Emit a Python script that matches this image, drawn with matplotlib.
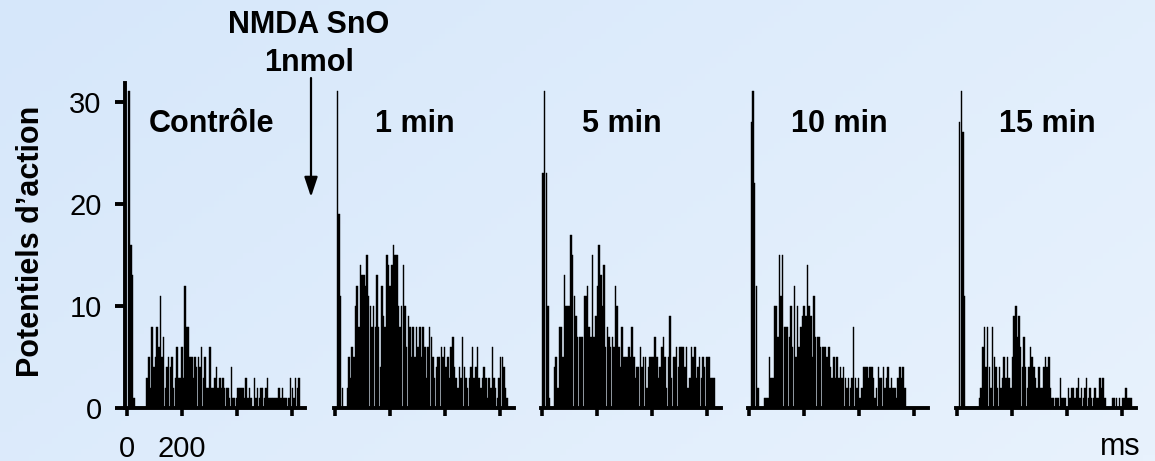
import numpy as np
import matplotlib
matplotlib.use("Agg")
import matplotlib.pyplot as plt
from matplotlib.colors import LinearSegmentedColormap
from matplotlib.patches import FancyArrowPatch

plt.rcParams['font.family'] = ['Liberation Sans', 'DejaVu Sans']

# PSTH counts, 6 ms bins starting at 0 ms
BIN_MS = 6

controle = [0, 31, 16, 13, 1, 0, 0, 0, 0, 0, 0, 0,
            3, 5, 2, 8, 4, 5, 8, 6, 11, 5, 7, 2, 4, 5, 4, 5, 2, 3, 6, 3,
            3, 6, 3, 12, 8, 8, 5, 5, 3, 5, 4, 5, 4, 6, 3, 5, 2, 2, 6, 2,
            2, 3, 4, 2, 3, 2, 3, 2, 2, 2, 1, 4, 1, 1, 1, 2, 2, 2, 2, 1,
            3, 1, 2, 1, 0, 3, 1, 2, 1, 2, 2, 1, 2, 3, 1, 1, 1, 1, 1, 1,
            2, 1, 2, 1, 1, 0, 1, 3, 2, 1, 3, 2, 3]

min_1 = [0, 31, 19, 11, 2, 0, 0, 2, 5, 3, 6, 5, 10, 12, 8, 14, 13, 13, 12, 15,
         11, 10, 8, 10, 8, 13, 8, 4, 12, 9, 8, 15, 14, 12, 14, 16, 15, 15, 10, 8,
         10, 14, 10, 6, 9, 8, 5, 8, 5, 8, 6, 8, 5, 8, 6, 3, 6, 8, 7, 5,
         3, 4, 5, 5, 6, 5, 6, 4, 5, 3, 6, 7, 4, 3, 2, 4, 3, 7, 4, 3,
         2, 3, 4, 6, 3, 4, 6, 3, 2, 3, 4, 3, 1, 3, 2, 6, 3, 2, 1, 3,
         5, 5, 4, 2, 1]

min_5 = [23, 31, 23, 10, 1, 0, 0, 4, 5, 2, 8, 8, 5, 13, 10, 10, 10, 17, 15, 11,
         9, 7, 7, 7, 7, 11, 11, 12, 8, 7, 15, 7, 9, 12, 16, 13, 10, 14, 6, 8,
         7, 6, 7, 6, 12, 10, 6, 4, 8, 5, 5, 5, 6, 5, 8, 5, 3, 4, 4, 6,
         4, 5, 5, 2, 4, 5, 5, 5, 7, 5, 3, 4, 6, 7, 5, 2, 5, 9, 3, 5,
         5, 6, 4, 6, 6, 6, 4, 6, 2, 3, 6, 5, 6, 3, 4, 5, 3, 5, 4, 5,
         5, 5, 3, 3, 3]

min_10 = [0, 28, 31, 22, 12, 2, 0, 0, 0, 1, 1, 1, 5, 3, 3, 10, 10, 7, 15, 11,
          15, 8, 8, 8, 7, 10, 6, 12, 5, 10, 6, 8, 9, 10, 9, 14, 10, 9, 5, 11,
          7, 7, 7, 6, 6, 6, 6, 5, 6, 4, 3, 5, 3, 5, 3, 4, 3, 4, 3, 2,
          3, 2, 3, 8, 3, 2, 3, 1, 2, 4, 4, 4, 3, 4, 4, 3, 1, 2, 4, 3,
          3, 4, 2, 3, 4, 2, 3, 2, 2, 1, 3, 4, 3, 4, 2]

min_15 = [0, 28, 31, 27, 11, 0, 0, 0, 0, 0, 0, 0, 0, 1, 2, 6, 8, 4, 8, 4,
          2, 8, 5, 4, 2, 4, 2, 3, 5, 3, 5, 3, 2, 5, 9, 10, 7, 9, 6, 4,
          7, 4, 2, 4, 6, 5, 4, 3, 2, 4, 2, 2, 4, 5, 4, 5, 2, 1, 1, 1,
          1, 1, 3, 1, 1, 1, 0, 2, 1, 2, 2, 1, 2, 3, 1, 2, 1, 2, 3, 1,
          2, 1, 1, 2, 1, 1, 3, 2, 3, 1, 0, 0, 0, 0, 1, 1, 1, 0, 1, 0,
          1, 1, 2, 1, 1, 1]

panels = [controle, min_1, min_5, min_10, min_15]
titles = ["Contrôle", "1 min", "5 min", "10 min", "15 min"]
x_ticks = [0, 200, 400, 600]
x_tick_labels = ["0", "200", "", ""]
y_ticks = [0, 10, 20, 30]

W, H = 1155, 461
fig = plt.figure(figsize=(W / 100, H / 100), dpi=100)

# light blue gradient background
bg = fig.add_axes([0, 0, 1, 1], zorder=-10)
cmap = LinearSegmentedColormap.from_list("bg", ["#d6e7fa", "#e8f2fd"])
gx, gy = np.meshgrid(np.linspace(0, 1, 200), np.linspace(0, 1, 80))
bg.imshow(0.65 * gx + 0.35 * gy, cmap=cmap, aspect="auto", extent=[0, 1, 0, 1])
bg.axis("off")

# pixel layout
zero_px = [126.7, 335, 542.3, 749, 957.3]
title_ms = [309, 291, 290, 330, 328]
px_per_ms = 0.2748
x_lo, x_hi = -5, 650
y_top = 31.8
base_px = 408.3
px_per_unit = 10.22

for i, counts in enumerate(panels):
    left = zero_px[i] + x_lo * px_per_ms
    width = (x_hi - x_lo) * px_per_ms
    height = y_top * px_per_unit
    ax = fig.add_axes([left / W, (H - base_px) / H, width / W, height / H])
    ax.set_facecolor("none")
    edges = np.arange(len(counts)) * BIN_MS
    ax.bar(edges, counts, width=BIN_MS * 0.92, align="edge", color="black",
           edgecolor="black", linewidth=0.3)
    ax.set_xlim(x_lo, x_hi)
    ax.set_ylim(0, y_top)
    for s in ["top", "right"]:
        ax.spines[s].set_visible(False)
    ax.spines["bottom"].set_linewidth(2.8)
    ax.spines["left"].set_linewidth(2.8)
    ax.set_xticks(x_ticks)
    ax.tick_params(axis="x", direction="out", length=6, width=2.6, pad=13,
                   labelsize=21)
    if i == 0:
        ax.set_xticklabels(x_tick_labels)
        ax.set_yticks(y_ticks)
        ax.tick_params(axis="y", direction="out", length=7, width=2.8, pad=10,
                       labelsize=21)
    else:
        ax.set_xticklabels([])
        ax.spines["left"].set_visible(False)
        ax.set_yticks([])
    ax.text(title_ms[i], (base_px - 132) / px_per_unit, titles[i],
            ha="center", va="baseline", fontsize=22, fontweight="bold")

fig.text(31 / W, 1 - 241 / H, "Potentiels d’action", rotation=90,
         ha="center", va="center", fontsize=22, fontweight="bold")
fig.text(309 / W, 1 - 33.3 / H, "NMDA SnO", ha="center", va="baseline",
         fontsize=22, fontweight="bold")
fig.text(309 / W, 1 - 70.7 / H, "1nmol", ha="center", va="baseline",
         fontsize=22, fontweight="bold")
fig.text(1120 / W, 1 - 455 / H, "ms", ha="center", va="baseline", fontsize=22)

fig.add_artist(FancyArrowPatch(
    (311 / W, 1 - 78 / H), (311 / W, 1 - 197 / H), transform=fig.transFigure,
    arrowstyle="-|>,head_length=0.6,head_width=0.2", mutation_scale=20,
    color="black", lw=1.6, shrinkA=0, shrinkB=0))

fig.savefig("out.png", dpi=100)
